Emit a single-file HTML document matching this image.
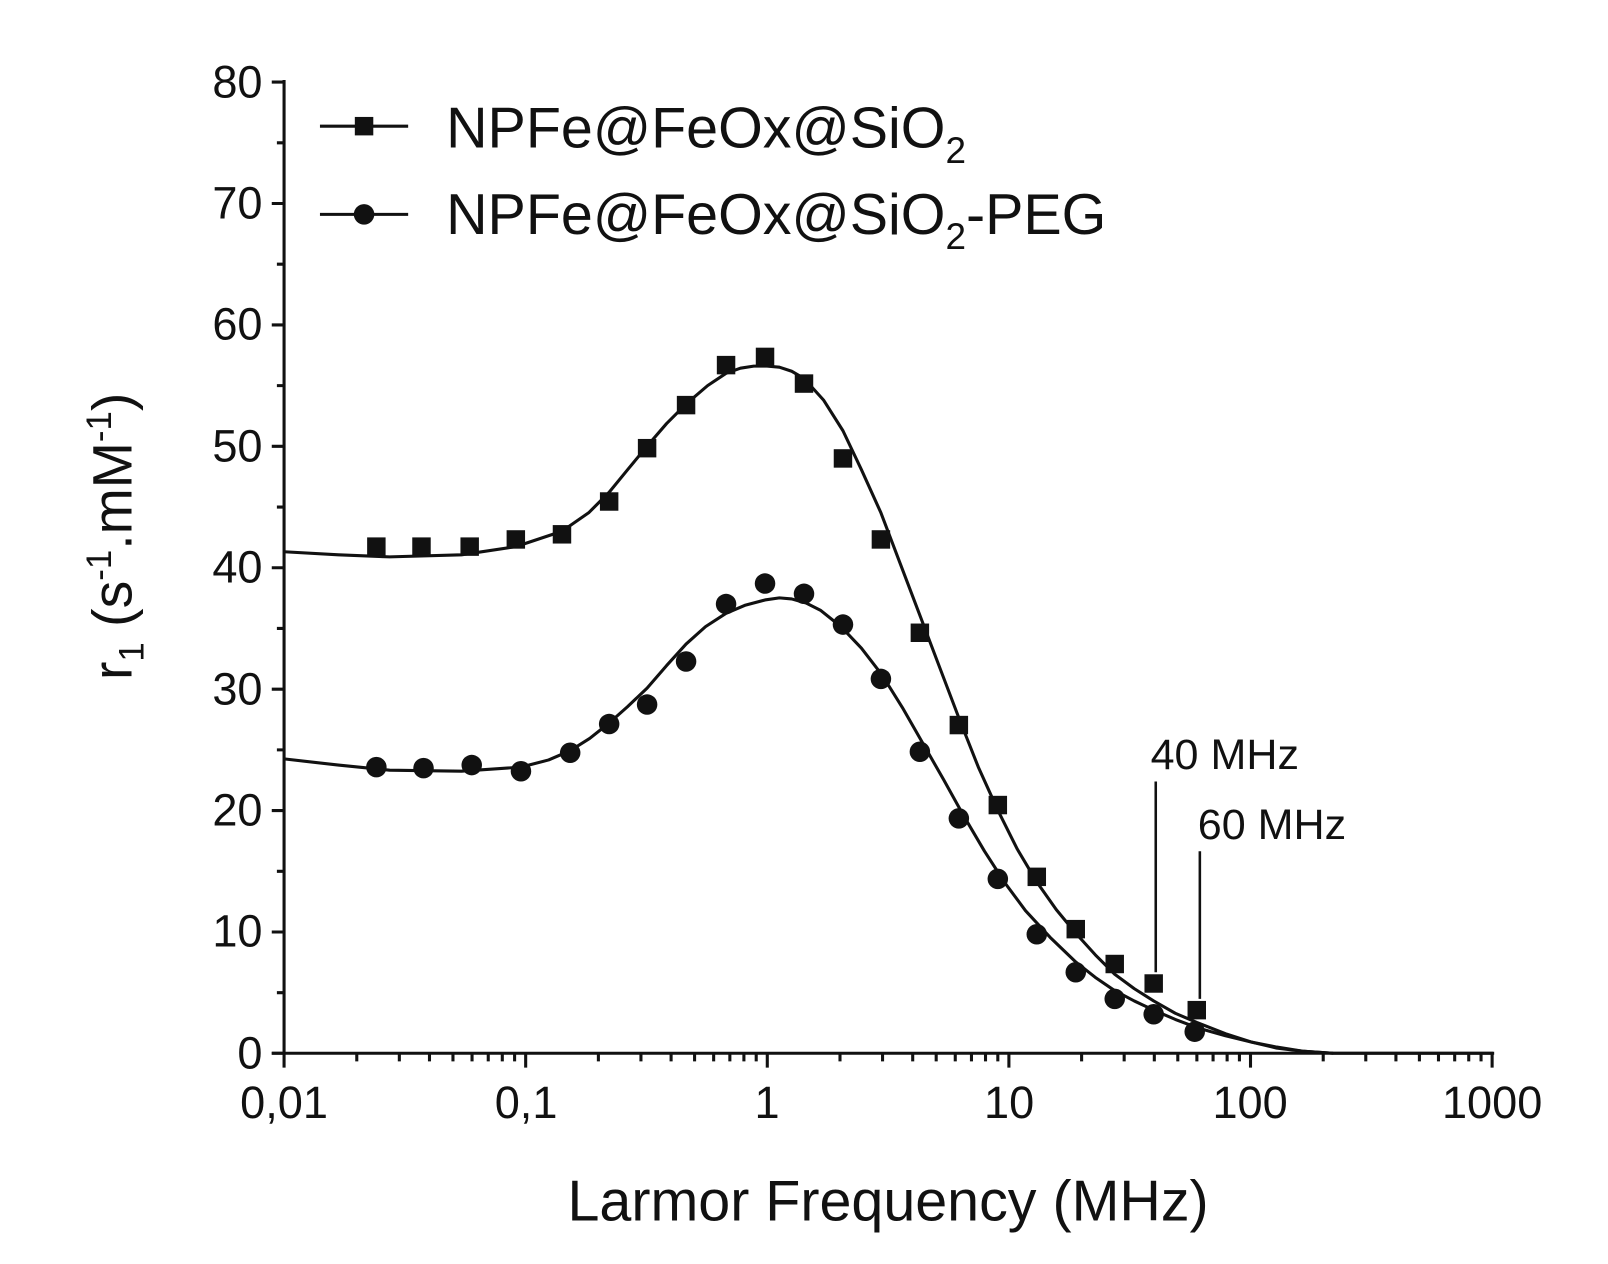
<!DOCTYPE html>
<html><head><style>html,body{margin:0;padding:0;background:#fff;}svg{display:block;}</style></head>
<body>
<svg width="1608" height="1264" viewBox="0 0 1568 1232.5" xmlns="http://www.w3.org/2000/svg" font-family="Liberation Sans, Arial, sans-serif">
<g stroke="#111" stroke-width="3" fill="none">
<line x1="277" y1="78" x2="277" y2="1027"/>
<line x1="265" y1="1027" x2="1457" y2="1027"/>
<path d="M265 80H277M265 198.4H277M265 316.8H277M265 435.2H277M265 553.6H277M265 672H277M265 790.4H277M265 908.8H277M265 1027H277"/>
<path d="M270 139.2H277M270 257.6H277M270 376H277M270 494.4H277M270 612.8H277M270 731.2H277M270 849.6H277M270 968H277"/>
<path d="M277 1027V1041M512.6 1027V1041M748.2 1027V1041M983.8 1027V1041M1219.4 1027V1041M1455 1027V1041"/>
<path d="M347.9 1027V1035M389.4 1027V1035M418.8 1027V1035M441.7 1027V1035M460.3 1027V1035M476.1 1027V1035M489.8 1027V1035M501.8 1027V1035
M583.5 1027V1035M625 1027V1035M654.4 1027V1035M677.3 1027V1035M695.9 1027V1035M711.7 1027V1035M725.4 1027V1035M737.4 1027V1035
M819.1 1027V1035M860.6 1027V1035M890 1027V1035M912.9 1027V1035M931.5 1027V1035M947.3 1027V1035M961 1027V1035M973 1027V1035
M1054.7 1027V1035M1096.2 1027V1035M1125.6 1027V1035M1148.5 1027V1035M1167.1 1027V1035M1182.9 1027V1035M1196.6 1027V1035M1208.6 1027V1035
M1290.3 1027V1035M1331.8 1027V1035M1361.2 1027V1035M1384.1 1027V1035M1402.7 1027V1035M1418.5 1027V1035M1432.2 1027V1035M1444.2 1027V1035"/>
</g>
<g font-size="44" fill="#111" text-anchor="end">
<text x="256" y="95">80</text><text x="256" y="213">70</text><text x="256" y="331">60</text><text x="256" y="450">50</text><text x="256" y="568">40</text><text x="256" y="687">30</text><text x="256" y="805">20</text><text x="256" y="923">10</text><text x="256" y="1042">0</text>
</g>
<g font-size="44" fill="#111" text-anchor="middle">
<text x="277" y="1090">0,01</text><text x="513" y="1090">0,1</text><text x="748" y="1090">1</text><text x="984" y="1090">10</text><text x="1219" y="1090">100</text><text x="1455" y="1090">1000</text>
</g>
<text x="866" y="1190" font-size="56" text-anchor="middle" fill="#111">Larmor Frequency (MHz)</text>
<text transform="translate(128,523) rotate(-90)" font-size="54" text-anchor="middle" fill="#111">r<tspan font-size="34" dy="12">1</tspan><tspan dy="-12"> (s</tspan><tspan font-size="34" dy="-20">-1</tspan><tspan dy="20">.mM</tspan><tspan font-size="34" dy="-20">-1</tspan><tspan dy="20">)</tspan></text>
<g stroke="#111" stroke-width="3"><line x1="312" y1="123" x2="398" y2="123"/><line x1="312" y1="209" x2="398" y2="209"/></g>
<rect x="346" y="114" width="18" height="18" fill="#111"/>
<circle cx="355" cy="209" r="10" fill="#111"/>
<text x="435" y="144" font-size="56" fill="#111">NPFe@FeOx@SiO<tspan font-size="36" dy="15">2</tspan></text>
<text x="435" y="228" font-size="56" fill="#111">NPFe@FeOx@SiO<tspan font-size="36" dy="15">2</tspan><tspan dy="-15">-PEG</tspan></text>
<g stroke="#111" stroke-width="3" fill="none" stroke-linejoin="round">
<polyline points="277,538 330,541 380,543 450,541 503,533 548,518 574,500 594,480 612,458 631,435 650,413 669,394 690,376 708,364 722,359 735,357 748,357 760,358 772,362 784,369 803,390 822,420 840,458 859,500 878,550 897,600 916,650 935,700 954,748 973,790 992,828 1011,860 1030,887 1049,910 1068,931 1087,950 1106,964 1125,976 1146,988 1167,997 1195,1008 1220,1016 1245,1022 1270,1025 1300,1027 1456,1027"/>
<polyline points="277,740 330,746 380,751 450,752 508,748 535,741 556,732 575,720 594,705 612,689 631,671 650,649 669,628 688,611 708,598 727,590 746,585 760,583 772,584 786,588 800,595 820,611 840,632 860,658 880,690 900,725 920,760 940,796 960,830 980,861 1000,888 1024,914 1049,938 1068,953 1087,966 1106,976 1125,985 1146,994 1167,1002 1195,1010 1220,1016 1245,1021 1270,1025 1300,1027"/>
</g>
<g fill="#111">
<rect x="358" y="524" width="18" height="18"/><rect x="402" y="524" width="18" height="18"/><rect x="449" y="524" width="18" height="18"/><rect x="494" y="517" width="18" height="18"/><rect x="539" y="512" width="18" height="18"/><rect x="585" y="480" width="18" height="18"/><rect x="622" y="428" width="18" height="18"/><rect x="660" y="386" width="18" height="18"/><rect x="699" y="347" width="18" height="18"/><rect x="737" y="339" width="18" height="18"/><rect x="775" y="365" width="18" height="18"/><rect x="813" y="438" width="18" height="18"/><rect x="850" y="517" width="18" height="18"/><rect x="888" y="608" width="18" height="18"/><rect x="926" y="698" width="18" height="18"/><rect x="964" y="776" width="18" height="18"/><rect x="1002" y="846" width="18" height="18"/><rect x="1040" y="897" width="18" height="18"/><rect x="1078" y="931" width="18" height="18"/><rect x="1116" y="950" width="18" height="18"/><rect x="1158" y="976" width="18" height="18"/>
</g>
<g fill="#111">
<circle cx="367" cy="748" r="10"/><circle cx="413" cy="749" r="10"/><circle cx="460" cy="746" r="10"/><circle cx="508" cy="752" r="10"/><circle cx="556" cy="734" r="10"/><circle cx="594" cy="706" r="10"/><circle cx="631" cy="687" r="10"/><circle cx="669" cy="645" r="10"/><circle cx="708" cy="589" r="10"/><circle cx="746" cy="569" r="10"/><circle cx="784" cy="579" r="10"/><circle cx="822" cy="609" r="10"/><circle cx="859" cy="662" r="10"/><circle cx="897" cy="733" r="10"/><circle cx="935" cy="798" r="10"/><circle cx="973" cy="857" r="10"/><circle cx="1011" cy="911" r="10"/><circle cx="1049" cy="948" r="10"/><circle cx="1087" cy="974" r="10"/><circle cx="1125" cy="989" r="10"/><circle cx="1165" cy="1006" r="10"/>
</g>
<g stroke="#111" stroke-width="2.5"><line x1="1127" y1="762" x2="1127" y2="948"/><line x1="1170" y1="830" x2="1170" y2="974"/></g>
<text x="1122" y="750" font-size="42" fill="#111">40 MHz</text>
<text x="1168" y="818" font-size="42" fill="#111">60 MHz</text>
</svg>
</body></html>
